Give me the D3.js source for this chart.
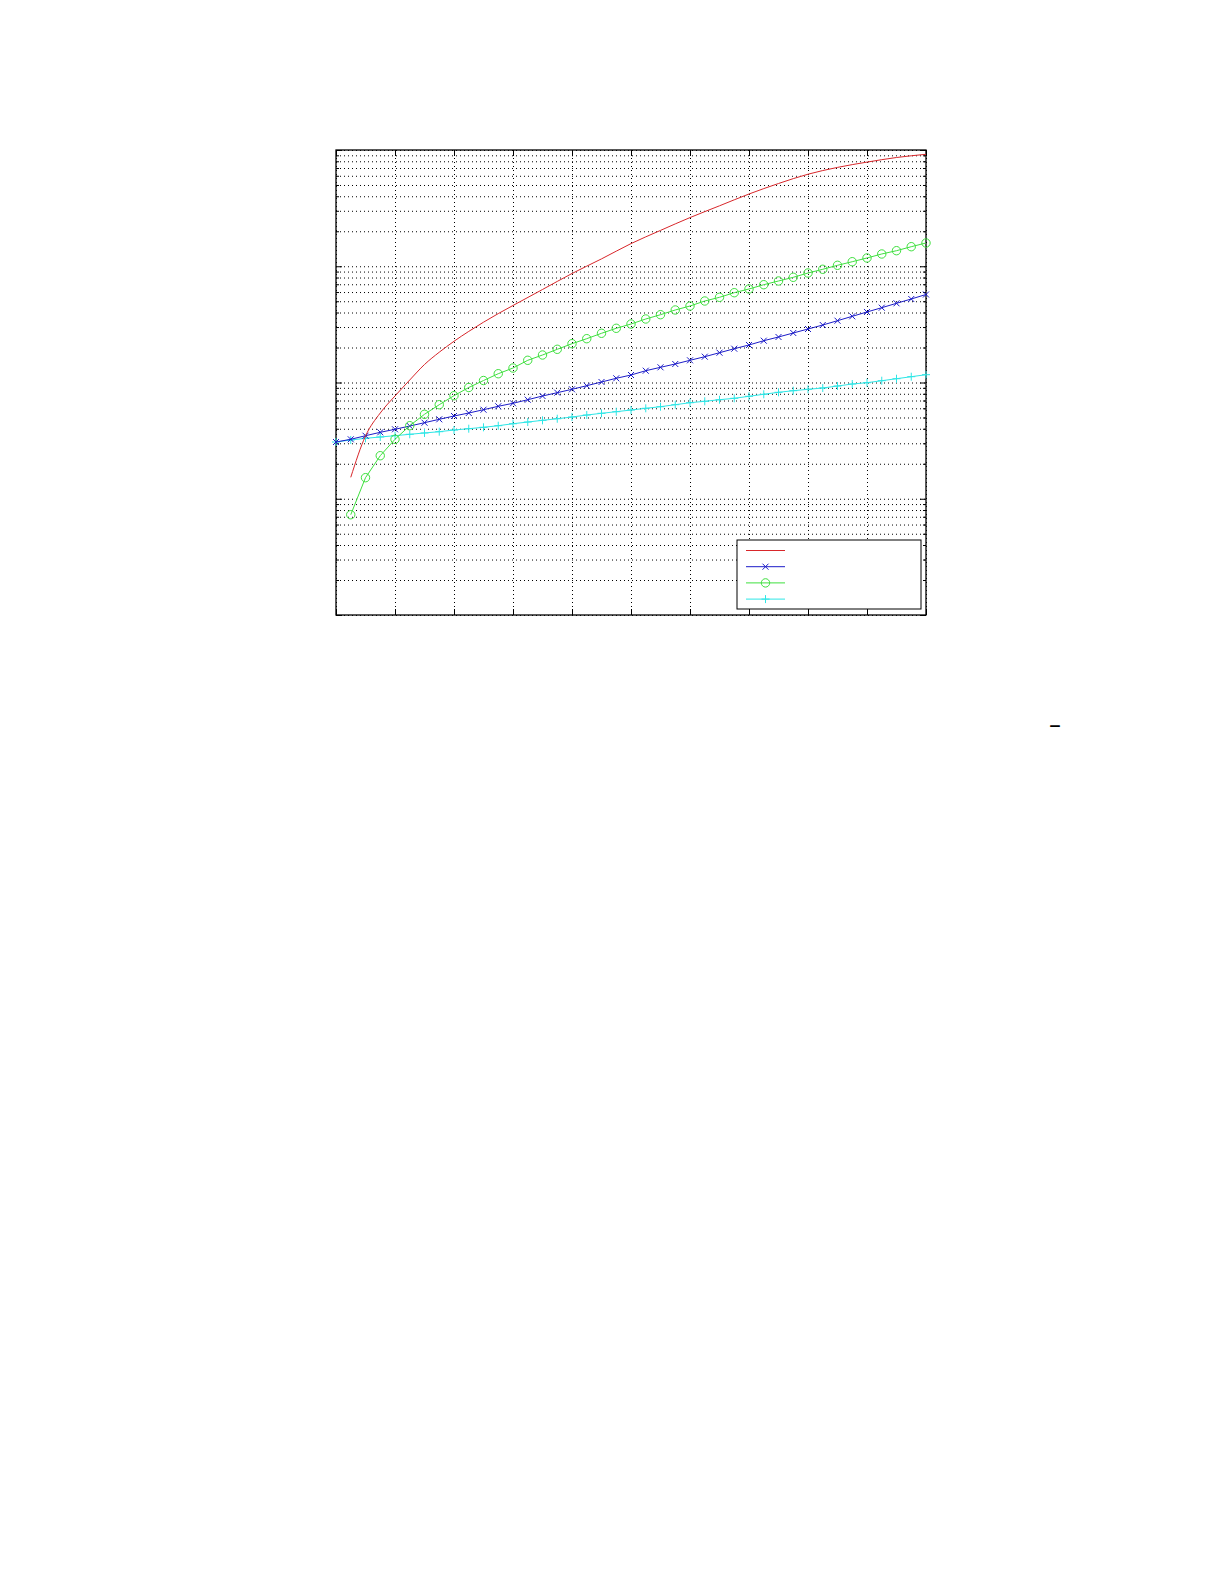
<!DOCTYPE html>
<html>
<head>
<meta charset="utf-8">
<script src="https://cdn.jsdelivr.net/npm/d3@7"></script>
<style>
  body { margin: 0; background: #fff; }
  .grid line { stroke: #000; stroke-dasharray: 1,3; stroke-width: 1; }
  .grid path { display: none; }
  .tick-axis path { display: none; }
  .tick-axis line { stroke: #000; stroke-width: 1; }
</style>
</head>
<body>
<svg id="chart" width="1225" height="1585"></svg>
<script>
// x positions (0..10 in steps of 0.25)
const xAll = d3.range(0, 10.001, 0.25);

// blue, x markers, from x = 0
const blueVals = [0.3077, 0.3246, 0.3486, 0.3729, 0.3958, 0.4224, 0.4510, 0.4824, 0.5149, 0.5465,
  0.5834, 0.6242, 0.6624, 0.7112, 0.7654, 0.8173, 0.8740, 0.9386, 1.010, 1.087,
  1.160, 1.263, 1.351, 1.443, 1.552, 1.667, 1.804, 1.953, 2.102, 2.289,
  2.463, 2.666, 2.885, 3.123, 3.401, 3.711, 4.042, 4.400, 4.800, 5.228, 5.715];

// green, circle markers, from x = 0.25
const greenVals = [0.0729, 0.1518, 0.2346, 0.3246, 0.4250, 0.5327, 0.6442, 0.7700, 0.9058, 1.040,
  1.190, 1.332, 1.552, 1.724, 1.930, 2.157, 2.382, 2.650, 2.926, 3.185,
  3.518, 3.831, 4.205, 4.550, 5.024, 5.406, 5.923, 6.373, 6.939, 7.467,
  8.034, 8.748, 9.415, 10.19, 10.94, 11.78, 12.75, 13.61, 14.73, 15.85];

// cyan, plus markers, from x = 0
const cyanVals = [0.3077, 0.3202, 0.3311, 0.3398, 0.3486, 0.3585, 0.3679, 0.3774, 0.3903, 0.4005,
  0.4117, 0.4250, 0.4420, 0.4571, 0.4727, 0.4880, 0.5047, 0.5251, 0.5433, 0.5608,
  0.5800, 0.5999, 0.6192, 0.6442, 0.6702, 0.6891, 0.7112, 0.7313, 0.7609, 0.7918,
  0.8236, 0.8502, 0.8740, 0.8968, 0.9330, 0.9707, 0.9961, 1.036, 1.078, 1.122, 1.167];

// red, plain line
const redX = [0.25, 0.5, 0.75, 1, 1.25, 1.5, 1.75, 2, 2.25, 2.5, 2.75, 3, 3.5, 4, 4.5, 5, 5.5, 6, 6.5, 7, 7.5, 8, 8.5, 9, 9.5, 10];
const redVals = [0.1529, 0.3466, 0.5465, 0.7654, 1.051, 1.428, 1.822, 2.262, 2.752, 3.302, 3.914, 4.596,
  6.310, 8.662, 11.57, 15.66, 20.34, 26.22, 33.11, 41.83, 51.49, 61.91, 70.86, 78.67, 86.19, 91.84];

const yMajor = [0.01, 0.1, 1, 10, 100];

const svg = d3.select('#chart');
const margin = {left: 336, top: 150, right: 926, bottom: 615};

const x = d3.scaleLinear().domain([0, 10]).range([margin.left, margin.right]);
const y = d3.scaleLog().domain([0.01, 100]).range([margin.bottom, margin.top]);
const w = margin.right - margin.left;
const h = margin.bottom - margin.top;

// dotted grid
svg.append('g').attr('class', 'grid')
    .attr('transform', `translate(${margin.left},0)`)
    .call(d3.axisLeft(y).tickValues(y.ticks()).tickSize(-w).tickFormat(''));
svg.append('g').attr('class', 'grid')
    .attr('transform', `translate(0,${margin.bottom})`)
    .call(d3.axisBottom(x).ticks(10).tickSize(-h).tickFormat(''));

// tick marks, pointing inward on all four sides
const minorY = y.ticks().filter(v => !yMajor.some(m => Math.abs(m - v) / m < 1e-6));
[[d3.axisLeft, margin.left], [d3.axisRight, margin.right]].forEach(([ax, pos]) => {
    svg.append('g').attr('class', 'tick-axis')
        .attr('transform', `translate(${pos},0)`)
        .call(ax(y).tickValues(yMajor).tickSize(-6).tickFormat(''));
    svg.append('g').attr('class', 'tick-axis')
        .attr('transform', `translate(${pos},0)`)
        .call(ax(y).tickValues(minorY).tickSize(-3).tickFormat(''));
});
svg.append('g').attr('class', 'tick-axis')
    .attr('transform', `translate(0,${margin.bottom})`)
    .call(d3.axisBottom(x).ticks(10).tickSize(-6).tickFormat(''));
svg.append('g').attr('class', 'tick-axis')
    .attr('transform', `translate(0,${margin.top})`)
    .call(d3.axisTop(x).ticks(10).tickSize(-6).tickFormat(''));

// axes box
svg.append('rect')
    .attr('x', margin.left).attr('y', margin.top)
    .attr('width', w).attr('height', h)
    .style('fill', 'none').style('stroke', '#000').style('stroke-width', 1.3);

const colors = {red: '#d8262a', blue: '#1c1cc8', green: '#3ee03e', cyan: '#2ee6e6'};

const line = d3.line().x(d => x(d[0])).y(d => y(d[1]));

const redData = redX.map((v, i) => [v, redVals[i]]);
const blueData = xAll.map((v, i) => [v, blueVals[i]]);
const greenData = xAll.slice(1).map((v, i) => [v, greenVals[i]]);
const cyanData = xAll.map((v, i) => [v, cyanVals[i]]);

const plot = svg.append('g');

function drawMarker(g, type, cx, cy, color) {
    if (type === 'x') {
        g.append('path').attr('d', `M${cx-3},${cy-3}L${cx+3},${cy+3}M${cx-3},${cy+3}L${cx+3},${cy-3}`)
            .style('stroke', color).style('stroke-width', 1).style('fill', 'none');
    } else if (type === 'o') {
        g.append('circle').attr('cx', cx).attr('cy', cy).attr('r', 4.2)
            .style('stroke', color).style('stroke-width', 1).style('fill', 'none');
    } else if (type === '+') {
        g.append('path').attr('d', `M${cx-4},${cy}L${cx+4},${cy}M${cx},${cy-4}L${cx},${cy+4}`)
            .style('stroke', color).style('stroke-width', 1).style('fill', 'none');
    }
}

const series = [
    {data: cyanData, color: colors.cyan, marker: '+', curve: d3.curveLinear},
    {data: blueData, color: colors.blue, marker: 'x', curve: d3.curveLinear},
    {data: greenData, color: colors.green, marker: 'o', curve: d3.curveLinear},
    {data: redData, color: colors.red, marker: null, curve: d3.curveMonotoneX}
];

series.forEach(s => {
    plot.append('path')
        .datum(s.data)
        .attr('d', line.curve(s.curve))
        .style('fill', 'none').style('stroke', s.color).style('stroke-width', 1);
    if (s.marker) {
        const mg = plot.append('g');
        s.data.forEach(d => drawMarker(mg, s.marker, x(d[0]), y(d[1]), s.color));
    }
});

// legend
const legend = svg.append('g');
legend.append('rect')
    .attr('x', 737).attr('y', 540).attr('width', 184).attr('height', 69)
    .style('fill', '#fff').style('stroke', '#000').style('stroke-width', 1);
const legendItems = [
    {color: colors.red, marker: null},
    {color: colors.blue, marker: 'x'},
    {color: colors.green, marker: 'o'},
    {color: colors.cyan, marker: '+'}
];
legendItems.forEach((it, i) => {
    const ly = 550.5 + i * 16.2;
    legend.append('line')
        .attr('x1', 746).attr('x2', 785).attr('y1', ly).attr('y2', ly)
        .style('stroke', it.color).style('stroke-width', 1);
    if (it.marker) drawMarker(legend, it.marker, 765.5, ly, it.color);
});

// stray glyph at the lower right
svg.append('text')
    .attr('x', 1049).attr('y', 733)
    .style('font-family', 'DejaVu Sans').style('font-size', '24px')
    .text('–');
</script>
</body>
</html>
